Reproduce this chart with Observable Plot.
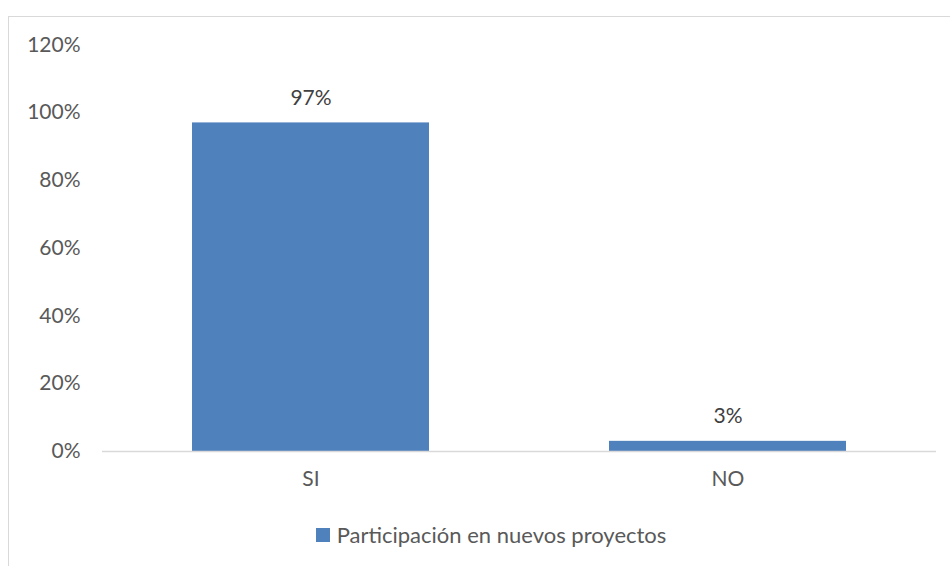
<!DOCTYPE html>
<html><head><meta charset="utf-8">
<script src="https://cdn.jsdelivr.net/npm/d3@7"></script>
<script src="https://cdn.jsdelivr.net/npm/@observablehq/plot@0.6"></script>
<style>
html,body{margin:0;padding:0;background:#fff;}
#wrap{position:relative;width:950px;height:566px;overflow:hidden;font-family:Lato,"Open Sans",sans-serif;}
#frame{position:absolute;left:8px;top:16px;width:1000px;height:600px;border:1.5px solid #d9d9d9;box-sizing:border-box;}
#chart{position:absolute;left:0;top:0;}
#legend{position:absolute;top:521px;left:16px;width:950px;display:flex;justify-content:center;align-items:center;font-size:22px;color:#595959;}
#legend .sw{width:14px;height:14px;background:#4F81BD;margin-right:7px;}
</style></head>
<body><div id="wrap"><div id="frame"></div><div id="chart"></div><div id="legend"></div></div>
<script>
const categories = ["SI", "NO"];
const values = [97, 3];
const seriesName = "Participación en nuevos proyectos";
const yTicks = [0, 20, 40, 60, 80, 100, 120];

const data = categories.map((c, i) => ({cat: c, v: values[i]}));
const color = "#4F81BD";
const plot = Plot.plot({
  width: 950, height: 490,
  marginTop: 44.5, marginBottom: 39, marginLeft: 102, marginRight: 14,
  style: {fontFamily: "Lato, 'Open Sans', sans-serif", fontSize: "21px", color: "#595959", background: "transparent"},
  x: {domain: categories, paddingInner: 0.432, paddingOuter: 0.216, label: null, tickSize: 0, tickPadding: 20},
  y: {domain: [0, 120], ticks: yTicks, tickFormat: d => d + "%", label: null, tickSize: 0, tickPadding: 22},
  marks: [
    Plot.barY(data, {x: "cat", y: "v", fill: color}),
    Plot.ruleY([0], {stroke: "#d9d9d9", strokeWidth: 1.5}),
    Plot.text(data, {x: "cat", y: "v", text: d => d.v + "%", dy: -25, fill: "#404040", fontSize: 21})
  ]
});
document.getElementById("chart").appendChild(plot);
const lg = document.getElementById("legend");
lg.innerHTML = `<div class="sw"></div><span>${seriesName}</span>`;
</script></body></html>
